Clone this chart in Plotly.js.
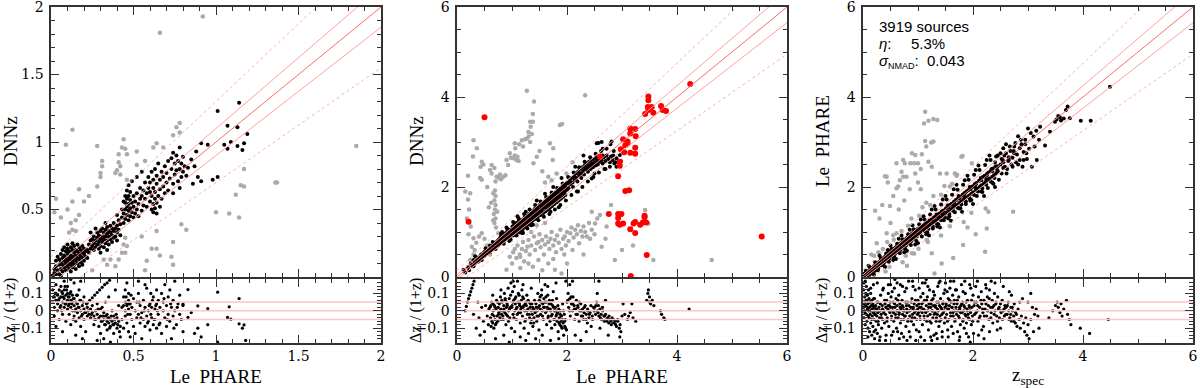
<!DOCTYPE html>
<html><head><meta charset="utf-8">
<script src="https://cdn.plot.ly/plotly-3.0.1.min.js"></script>
<style>html,body{margin:0;padding:0;background:#fff}#chart{width:1200px;height:388px}</style>
</head><body><div id="chart"></div>
<script>
// ---------------- DATA ----------------
const p1Gray = [[0.92,1.93],[0.66,1.81],[0.09,0.98],[0.13,1.09],[0.28,0.97],[0.44,1.02],[0.43,0.96],[0.45,0.95],[0.52,0.93],[0.46,0.91],[0.41,0.91],[0.31,0.86],[0.31,0.82],[0.3,0.77],[0.3,0.74],[0.28,0.67],[0.17,0.65],[0.41,0.85],[0.42,0.82],[0.4,0.79],[0.39,0.77],[0.42,0.76],[0.46,0.72],[0.64,0.99],[0.62,0.96],[0.68,0.96],[0.78,1.14],[0.76,1.11],[0.78,1.07],[0.74,1.05],[1.85,0.97],[1.37,0.7],[1.17,0.8],[1.15,0.68],[1.17,0.67],[1.12,0.61],[0.52,0.83],[0.57,0.86],[0.23,0.6],[0.13,0.56],[0.1,0.5],[0.17,0.46],[0.13,0.35],[0.11,0.33],[0.15,0.34],[0.44,0.24],[0.45,0.18],[0.41,0.13],[0.32,0.13],[0.34,0.09],[0.64,0.21],[0.74,0.26],[0.74,0.09],[0.82,0.35],[0.79,0.39],[1.0,0.48],[1.08,0.47],[1.14,0.44],[1.36,0.7],[0.57,0.05],[0.64,0.34],[0.61,0.21],[0.66,0.16],[0.73,0.15],[0.45,0.29],[0.46,0.23],[0.43,0.18],[0.39,0.08],[0.02,0.48],[0.03,0.58],[0.2,0.56],[0.12,0.4],[0.15,0.42],[0.06,0.44],[0.55,0.3],[0.58,0.12],[0.25,0.05],[0.36,0.13]];
const p1Black = [[0.02,0.03],[0.03,0.08],[0.03,0.12],[0.04,0.05],[0.04,0.15],[0.05,0.02],[0.05,0.09],[0.05,0.13],[0.06,0.06],[0.06,0.11],[0.06,0.17],[0.07,0.04],[0.07,0.09],[0.07,0.14],[0.07,0.2],[0.08,0.07],[0.08,0.12],[0.08,0.16],[0.08,0.22],[0.09,0.05],[0.09,0.1],[0.09,0.14],[0.09,0.19],[0.1,0.08],[0.1,0.12],[0.1,0.17],[0.1,0.21],[0.1,0.24],[0.11,0.06],[0.11,0.1],[0.11,0.14],[0.11,0.19],[0.12,0.09],[0.12,0.13],[0.12,0.16],[0.12,0.22],[0.13,0.07],[0.13,0.11],[0.13,0.15],[0.13,0.2],[0.13,0.25],[0.14,0.09],[0.14,0.13],[0.14,0.18],[0.14,0.23],[0.15,0.06],[0.15,0.12],[0.15,0.16],[0.15,0.2],[0.16,0.1],[0.16,0.14],[0.16,0.19],[0.16,0.24],[0.17,0.08],[0.17,0.13],[0.17,0.17],[0.17,0.22],[0.18,0.11],[0.18,0.15],[0.18,0.2],[0.19,0.09],[0.19,0.14],[0.19,0.18],[0.19,0.23],[0.2,0.12],[0.2,0.17],[0.2,0.21],[0.21,0.15],[0.21,0.19],[0.22,0.14],[0.22,0.2],[0.01,0.01],[0.02,0.06],[0.03,0.02],[0.12,0.04],[0.06,0.01],
[0.23,0.18],[0.23,0.24],[0.24,0.21],[0.24,0.27],[0.25,0.23],[0.25,0.28],[0.26,0.2],[0.26,0.25],[0.26,0.3],[0.27,0.22],[0.27,0.27],[0.28,0.24],[0.28,0.29],[0.28,0.33],[0.29,0.21],[0.29,0.26],[0.29,0.31],[0.3,0.23],[0.3,0.28],[0.3,0.34],[0.31,0.26],[0.31,0.3],[0.31,0.36],[0.32,0.22],[0.32,0.28],[0.32,0.33],[0.33,0.25],[0.33,0.3],[0.33,0.35],[0.33,0.4],[0.34,0.27],[0.34,0.32],[0.34,0.37],[0.35,0.24],[0.35,0.3],[0.35,0.34],[0.36,0.28],[0.36,0.33],[0.36,0.38],[0.37,0.26],[0.37,0.31],[0.37,0.36],[0.38,0.29],[0.38,0.34],[0.38,0.4],[0.39,0.3],[0.39,0.36],[0.4,0.27],[0.4,0.33],[0.4,0.38],[0.41,0.35],[0.41,0.42],[0.42,0.31],[0.42,0.39],[0.3,0.18],[0.34,0.2],[0.27,0.36],[0.24,0.33],
[0.43,0.44],[0.43,0.5],[0.44,0.4],[0.44,0.47],[0.44,0.56],[0.45,0.43],[0.45,0.5],[0.45,0.55],[0.45,0.6],[0.46,0.46],[0.46,0.52],[0.46,0.58],[0.46,0.64],[0.47,0.42],[0.47,0.49],[0.47,0.54],[0.47,0.6],[0.47,0.68],[0.48,0.45],[0.48,0.51],[0.48,0.57],[0.48,0.63],[0.49,0.48],[0.49,0.55],[0.49,0.71],[0.5,0.44],[0.5,0.52],[0.5,0.6],[0.51,0.47],[0.51,0.56],[0.52,0.5],[0.52,0.62],[0.53,0.45],[0.53,0.54],[0.54,0.58],[0.54,0.66],[0.55,0.49],[0.55,0.6],[0.56,0.53],[0.56,0.64],[0.52,0.74],[0.55,0.78],[0.4,0.46],
[0.57,0.58],[0.57,0.7],[0.58,0.52],[0.58,0.62],[0.59,0.66],[0.59,0.74],[0.6,0.56],[0.6,0.63],[0.6,0.7],[0.61,0.5],[0.61,0.6],[0.61,0.78],[0.62,0.48],[0.62,0.54],[0.62,0.66],[0.62,0.72],[0.63,0.51],[0.63,0.58],[0.63,0.63],[0.63,0.8],[0.64,0.47],[0.64,0.55],[0.64,0.69],[0.64,0.75],[0.65,0.6],[0.65,0.84],[0.66,0.52],[0.66,0.65],[0.66,0.72],[0.67,0.58],[0.67,0.78],[0.68,0.67],[0.68,0.74],[0.69,0.62],[0.69,0.82],[0.7,0.7],[0.7,0.77],[0.71,0.64],[0.71,0.86],[0.72,0.73],
[0.73,0.8],[0.73,0.88],[0.74,0.69],[0.74,0.92],[0.75,0.76],[0.75,0.84],[0.76,0.79],[0.76,0.9],[0.77,0.71],[0.77,0.86],[0.78,0.8],[0.78,0.96],[0.79,0.74],[0.79,0.84],[0.8,0.78],[0.8,0.89],[0.81,0.82],[0.82,0.75],[0.74,0.62],[0.78,0.66],
[1.01,1.23],[1.14,1.29],[1.07,1.12],[1.13,1.11],[1.19,1.06],[1.17,0.99],[1.13,0.97],[1.16,0.94],[1.09,1.0],[1.05,0.98],[1.07,0.95],[0.95,0.98],[0.91,0.99],[1.01,0.74],[0.98,0.72],[0.88,0.93],[0.85,0.87],[0.87,0.82],[0.83,0.81],[0.89,0.74],[0.91,0.71],[0.86,0.69]];
const p1Res = [[0.01,0.05],[0.01,0.12],[0.02,0.02],[0.02,0.08],[0.02,-0.03],[0.03,0.06],[0.03,0.1],[0.03,0.15],[0.04,0.0],[0.04,0.04],[0.04,0.09],[0.05,0.07],[0.05,0.12],[0.05,-0.05],[0.06,0.03],[0.06,0.08],[0.06,0.14],[0.07,0.05],[0.07,0.1],[0.07,-0.02],[0.08,0.02],[0.08,0.07],[0.08,0.12],[0.08,0.17],[0.09,0.04],[0.09,0.09],[0.09,-0.06],[0.1,0.01],[0.1,0.06],[0.1,0.1],[0.1,0.14],[0.11,-0.02],[0.11,0.04],[0.11,0.08],[0.12,0.02],[0.12,0.06],[0.12,0.11],[0.12,-0.08],[0.13,0.0],[0.13,0.05],[0.13,0.09],[0.14,-0.03],[0.14,0.03],[0.14,0.07],[0.14,0.16],[0.15,0.01],[0.15,0.05],[0.15,-0.06],[0.16,-0.01],[0.16,0.04],[0.16,0.09],[0.17,0.02],[0.17,-0.04],[0.17,0.12],[0.18,0.0],[0.18,0.06],[0.18,-0.09],[0.19,-0.02],[0.19,0.03],[0.2,0.01],[0.2,-0.05],[0.2,0.08],[0.21,-0.01],[0.21,-0.12],[0.22,0.02],[0.22,-0.03],[0.12,0.18],[0.18,0.17],[0.03,-0.09],[0.07,-0.12],[0.15,-0.14],[0.19,-0.16],
[0.23,-0.02],[0.24,0.01],[0.24,-0.04],[0.25,-0.01],[0.25,0.03],[0.26,-0.03],[0.26,-0.08],[0.27,0.0],[0.27,-0.05],[0.28,-0.02],[0.28,0.04],[0.29,-0.04],[0.29,-0.09],[0.3,0.01],[0.3,-0.03],[0.3,-0.13],[0.31,-0.06],[0.31,0.02],[0.32,-0.01],[0.32,-0.05],[0.32,-0.16],[0.33,-0.03],[0.33,-0.08],[0.33,0.05],[0.34,-0.06],[0.34,-0.02],[0.34,-0.11],[0.35,-0.04],[0.35,-0.07],[0.35,0.08],[0.36,-0.05],[0.36,-0.09],[0.36,-0.18],[0.37,-0.06],[0.37,0.0],[0.38,-0.08],[0.38,-0.03],[0.38,-0.13],[0.39,-0.07],[0.4,-0.1],[0.4,-0.04],[0.41,-0.06],[0.41,0.03],[0.42,-0.09],[0.42,-0.15],[0.39,0.12],[0.28,-0.17],
[0.22,0.045],[0.235,0.06],[0.25,0.075],[0.265,0.09],[0.28,0.105],[0.295,0.12],[0.31,0.135],[0.325,0.15],[0.34,0.16],[0.355,0.175],
[0.43,0.02],[0.43,-0.05],[0.44,0.08],[0.44,-0.1],[0.45,0.0],[0.45,0.05],[0.45,0.12],[0.45,-0.03],[0.46,0.03],[0.46,-0.07],[0.46,0.16],[0.47,0.01],[0.47,0.06],[0.47,-0.12],[0.47,0.1],[0.48,-0.02],[0.48,0.04],[0.48,-0.15],[0.49,0.02],[0.49,-0.05],[0.5,0.07],[0.5,-0.09],[0.46,0.04],[0.44,0.03],
[0.51,0.0],[0.51,-0.13],[0.52,0.05],[0.52,-0.04],[0.53,0.1],[0.53,-0.02],[0.54,-0.07],[0.54,0.03],[0.55,-0.01],[0.55,-0.16],[0.56,0.06],[0.56,-0.05],[0.57,0.02],[0.57,-0.09],[0.58,0.13],[0.58,-0.03],[0.59,0.0],[0.59,-0.06],[0.6,0.04],[0.6,-0.11],[0.61,0.02],[0.61,-0.04],[0.62,0.08],[0.62,-0.08],[0.53,0.17],[0.57,0.15],
[0.63,0.01],[0.63,-0.05],[0.64,0.04],[0.64,-0.1],[0.64,0.12],[0.65,-0.02],[0.65,0.06],[0.66,-0.07],[0.66,0.02],[0.67,0.1],[0.67,-0.13],[0.68,0.0],[0.68,0.05],[0.69,-0.04],[0.69,0.15],[0.7,0.03],[0.7,-0.09],[0.71,0.08],[0.71,-0.02],[0.72,0.12],[0.72,-0.06],[0.73,0.02],[0.73,-0.16],[0.74,0.06],[0.74,-0.03],[0.75,0.0],[0.75,0.17],[0.76,-0.08],[0.77,0.04],[0.78,-0.02],[0.78,0.09],[0.79,-0.05],[0.8,0.03],[0.8,-0.12],
[1.01,0.107],[1.14,0.07],[1.08,0.023],[1.07,-0.038],[1.09,-0.048],[1.14,-0.075],[1.17,-0.081],[1.16,-0.1],[1.01,-0.18],[1.18,-0.17],[0.89,0.028],[0.95,0.013],[0.85,-0.01],[0.83,-0.038],[0.89,-0.1],[0.91,-0.15],[0.8,0.038],[0.83,0.122],[0.95,-0.08],[0.87,-0.13],
[0.015,0.08],[0.025,0.1],[0.045,0.06],[0.055,0.02],[0.065,0.11],[0.075,0.08],[0.085,0.04],[0.095,0.12],[0.105,0.03],[0.115,0.1],[0.125,0.04],[0.135,0.07],[0.145,0.0],[0.155,0.09],[0.165,0.02],[0.175,0.06],[0.185,-0.03],[0.195,0.05],[0.205,-0.01],[0.215,0.04],[0.225,0.0],[0.245,-0.02],[0.265,-0.05],[0.285,0.01],[0.305,-0.06],[0.315,-0.03],[0.325,-0.08],[0.345,-0.04],[0.355,-0.1],[0.365,-0.03],[0.375,-0.08],[0.385,-0.05],[0.395,-0.02],[0.405,-0.08],[0.415,-0.12],[0.455,0.08],[0.465,-0.02],[0.475,0.04],[0.485,0.09],[0.595,0.03],[0.605,-0.02],[0.615,0.06],[0.625,-0.05],[0.635,0.03],[0.645,0.0],[0.605,0.1],[0.655,-0.08],[0.685,0.07],[0.705,-0.05],[0.725,0.04],[0.745,-0.1],[0.765,0.02],[0.535,0.05],[0.545,-0.04],[0.565,0.0],[0.585,-0.07],[0.105,0.08],[0.085,0.14],[0.135,-0.05],[0.065,0.0]];

const p2Gray = [[0.15,1.9],[0.2,1.72],[0.22,1.5],[0.18,1.3],[0.25,1.12],[0.21,0.95],[0.3,0.86],[0.35,0.76],[0.24,1.86],[0.3,3.04],[0.36,2.86],[0.29,2.68],[0.45,2.56],[0.43,2.45],[0.48,2.5],[0.63,2.49],[0.63,2.3],[0.6,2.38],[0.68,2.42],[0.66,1.86],[0.72,2.23],[0.76,2.2],[0.8,2.17],[0.84,2.23],[0.78,2.28],[0.7,2.12],[0.88,2.26],[0.9,2.6],[0.93,2.49],[0.96,2.75],[0.98,2.65],[1.02,2.64],[1.05,2.7],[1.08,2.6],[1.1,2.67],[1.12,2.58],[1.06,2.86],[1.05,2.97],[1.13,2.95],[1.18,3.04],[1.2,2.9],[1.24,3.06],[1.27,3.08],[1.3,3.12],[1.33,3.0],[1.36,3.18],[1.3,3.22],[1.34,3.34],[1.38,3.45],[1.33,3.45],[1.38,3.62],[1.4,3.9],[1.27,4.14],[2.33,4.04],[1.87,3.38],[1.91,3.4],[1.69,2.97],[1.75,2.86],[1.74,2.6],[1.45,2.67],[1.39,2.53],[1.5,2.8],[1.81,2.3],[1.66,2.23],[1.72,2.15],[1.99,2.3],[1.55,2.35],[1.6,2.1],[2.1,2.55],[0.2,2.25],[0.42,2.2],[0.55,2.0],[0.45,2.16],
[0.69,1.92],[0.7,1.8],[0.68,1.7],[0.7,1.6],[0.69,1.5],[0.67,1.4],[0.7,1.3],[0.68,1.2],[0.71,1.1],[0.75,0.97],[0.66,1.26],[0.73,1.45],[0.62,1.65],[0.58,1.55],
[0.45,0.97],[0.4,0.9],[0.27,0.67],[0.32,0.6],[0.24,0.38],[0.3,0.5],[0.5,0.85],[0.55,0.7],[0.6,0.5],
[0.9,0.16],[0.96,0.45],[1.0,0.3],[1.02,0.55],[1.05,0.62],[1.08,0.42],[1.1,0.7],[1.14,0.5],[1.15,0.45],[1.18,0.62],[1.2,0.78],[1.22,0.35],[1.25,0.58],[1.27,1.19],[1.28,0.67],[1.3,0.82],[1.32,0.5],[1.35,0.7],[1.38,0.23],[1.4,0.9],[1.42,0.6],[1.45,0.75],[1.48,0.38],[1.48,0.78],[1.5,0.95],[1.52,0.66],[1.55,0.82],[1.58,0.5],[1.6,0.72],[1.62,0.9],[1.66,0.3],[1.66,0.78],[1.68,0.62],[1.7,0.85],[1.72,1.0],[1.75,0.7],[1.78,0.82],[1.78,0.16],[1.8,0.55],[1.82,0.92],[1.85,0.76],[1.88,1.05],[1.9,0.08],[1.9,0.62],[1.93,0.85],[1.96,0.9],[1.98,0.7],[2.0,1.0],[2.03,0.8],[2.06,0.97],[2.08,1.1],[2.1,0.6],[2.12,0.88],[2.15,1.05],[2.18,0.95],[2.2,1.15],[2.22,0.75],[2.25,1.02],[2.28,0.9],[2.3,1.12],[2.33,1.0],[2.36,0.9],[2.4,1.2],[2.42,0.85],[2.45,1.05],[2.5,0.95],[1.35,1.0],[1.2,1.05],[1.45,1.15],[1.6,1.2],[1.1,0.95],[0.98,0.82],[1.3,0.3],[1.55,0.15],[1.75,0.4],[2.0,0.3],[1.95,0.5],[1.15,0.2],[2.3,0.5],
[2.51,1.19],[2.55,1.3],[2.6,1.38],[2.72,1.12],[2.63,0.67],[2.7,0.85],[2.87,0.38],[3.0,0.6],[3.42,1.49],[3.48,1.19],[3.57,0.38],[4.63,0.38],[2.45,1.45],[2.8,1.6],[3.2,0.7]];
const p2Black = [[0.12,0.16],[0.15,0.1],[0.2,0.22],[0.22,0.15],[0.25,0.3],[0.28,0.24],[0.3,0.38],[0.32,0.3],[0.35,0.36],[0.36,0.42],[0.38,0.34],[0.4,0.44],[0.42,0.4],[0.44,0.5],[0.46,0.45],[0.48,0.52],[0.5,0.47],[0.52,0.56],[0.54,0.52],[0.55,0.6],[0.56,0.55],[0.58,0.58],[0.6,0.62],[0.6,0.55],[0.45,0.38],[0.33,0.46],[0.52,0.64],
[0.62,0.66],[0.63,0.6],[0.65,0.7],[0.66,0.64],[0.68,0.72],[0.68,0.66],[0.7,0.75],[0.7,0.69],[0.72,0.78],[0.72,0.72],[0.74,0.8],[0.74,0.74],[0.75,0.7],[0.76,0.83],[0.77,0.77],[0.78,0.86],[0.78,0.74],[0.8,0.82],[0.8,0.9],[0.81,0.76],[0.82,0.86],[0.83,0.8],[0.84,0.92],[0.85,0.86],[0.86,0.8],[0.86,0.95],[0.87,0.9],[0.88,0.84],[0.89,0.98],[0.9,0.92],[0.9,0.86],[0.91,1.0],[0.92,0.95],[0.93,0.88],[0.94,1.02],[0.95,0.97],[0.96,0.9],[0.97,1.05],[0.98,1.0],[0.99,0.94],[0.65,0.78],[0.82,1.0],[0.9,1.1],[0.95,0.8],
[1.0,1.06],[1.0,0.98],[1.01,1.12],[1.02,1.02],[1.02,0.92],[1.03,1.08],[1.04,1.16],[1.05,1.0],[1.05,1.06],[1.06,1.12],[1.07,0.96],[1.07,1.04],[1.08,1.2],[1.09,1.1],[1.1,1.02],[1.1,1.15],[1.11,1.07],[1.12,1.24],[1.13,1.12],[1.13,1.0],[1.14,1.18],[1.15,1.08],[1.16,1.14],[1.17,1.26],[1.18,1.04],[1.18,1.2],[1.19,1.12],[1.2,1.28],[1.21,1.16],[1.22,1.1],[1.22,1.24],[1.23,1.32],[1.24,1.18],[1.25,1.12],[1.26,1.28],[1.27,1.22],[1.28,1.36],[1.29,1.16],[1.3,1.3],[1.3,1.24],[1.31,1.4],[1.32,1.2],[1.33,1.34],[1.34,1.28],[1.35,1.44],[1.36,1.24],[1.37,1.38],[1.38,1.32],[1.39,1.48],[1.4,1.28],[1.4,1.4],[1.41,1.36],[1.42,1.52],[1.43,1.3],[1.44,1.44],[1.45,1.38],[1.46,1.56],[1.47,1.34],[1.48,1.48],[1.49,1.42],[1.5,1.6],[1.1,1.35],[1.2,0.98],[1.35,1.15],[1.45,1.7],[1.25,1.45],
[1.51,1.5],[1.52,1.38],[1.53,1.56],[1.54,1.46],[1.55,1.64],[1.56,1.52],[1.57,1.42],[1.58,1.6],[1.59,1.68],[1.6,1.55],[1.61,1.46],[1.62,1.64],[1.63,1.72],[1.64,1.58],[1.65,1.5],[1.66,1.68],[1.67,1.76],[1.68,1.62],[1.69,1.54],[1.7,1.72],[1.71,1.8],[1.72,1.66],[1.73,1.58],[1.74,1.76],[1.75,1.84],[1.76,1.7],[1.77,1.62],[1.78,1.8],[1.79,1.88],[1.8,1.74],[1.81,1.66],[1.82,1.84],[1.83,1.92],[1.84,1.78],[1.85,1.7],[1.86,1.88],[1.87,1.96],[1.88,1.82],[1.89,1.74],[1.9,1.92],[1.91,2.0],[1.92,1.86],[1.93,1.78],[1.94,1.96],[1.95,2.04],[1.96,1.9],[1.97,1.82],[1.98,2.0],[1.99,2.08],[2.0,1.94],[1.6,1.85],[1.75,2.0],[1.9,2.2],[1.7,1.45],[1.85,1.55],
[2.02,2.1],[2.03,1.98],[2.05,2.14],[2.06,2.06],[2.08,2.2],[2.1,2.1],[2.11,2.0],[2.13,2.24],[2.14,2.16],[2.16,2.3],[2.17,2.2],[2.19,2.12],[2.2,2.34],[2.22,2.26],[2.23,2.4],[2.25,2.3],[2.26,2.2],[2.28,2.44],[2.29,2.36],[2.31,2.28],[2.32,2.48],[2.34,2.4],[2.35,2.52],[2.37,2.44],[2.38,2.34],[2.4,2.56],[2.41,2.48],[2.43,2.4],[2.44,2.6],[2.46,2.52],[2.47,2.44],[2.49,2.62],[2.5,2.54],[2.52,2.48],[2.53,2.66],[2.55,2.58],[2.56,2.5],[2.58,2.64],[2.6,2.56],[2.61,2.7],[2.63,2.6],[2.65,2.52],[2.67,2.66],[2.7,2.58],[2.72,2.7],[2.75,2.62],[2.78,2.55],[2.8,2.68],[2.83,2.6],[2.86,2.52],[2.9,2.64],[2.94,2.56],[2.54,2.97],[2.63,3.0],[2.79,2.95],[2.57,2.98],[2.81,3.01],[2.96,2.71],[2.45,2.19],[2.36,2.41],[2.2,1.9],[2.3,2.7],[2.7,2.4],[2.85,2.8],[2.65,2.85],[2.15,2.45],[2.5,2.3],[2.9,2.45],[2.98,2.58],
[0.3,0.24],[0.4,0.36],[0.5,0.56],[0.6,0.7],[0.7,0.62],[0.8,0.96],[0.85,0.74],[0.92,1.06],[0.97,0.84],[1.02,1.22],[1.08,0.92],[1.12,1.3],[1.18,0.98],[1.22,1.4],[1.28,1.08],[1.32,1.5],[1.38,1.16],[1.42,1.6],[1.48,1.26],[1.52,1.68],[1.58,1.34],[1.62,1.78],[1.68,1.4],[1.72,1.88],[1.78,1.5],[1.82,1.98],[1.88,1.6],[1.92,2.08],[1.98,1.7],[2.02,2.22],[2.08,1.82],[2.12,2.32],[2.18,1.9],[2.22,2.44],[2.28,2.0],[2.32,2.56],[2.38,2.12],[2.42,2.66],[2.48,2.22],[2.52,2.74],[2.58,2.32],[2.62,2.8],[2.68,2.4],[2.72,2.85],[2.78,2.45],[2.84,2.7],[2.88,2.55],[1.05,1.1],[1.15,1.2],[1.25,1.3],[1.35,1.4],[1.45,1.5],[1.55,1.6],[1.65,1.7],[1.75,1.8],[1.85,1.9],[1.95,2.0],[2.05,2.1],[2.15,2.2],[2.25,2.3],[2.35,2.4],[2.45,2.5],[2.55,2.6],[2.65,2.7],[0.95,1.0],[0.85,0.9],[0.75,0.8]];
const p2Red = [[0.5,3.55],[4.24,4.29],[3.48,4.01],[3.48,3.93],[3.47,3.78],[3.54,3.78],[3.48,3.71],[3.57,3.65],[3.42,3.62],[3.71,3.8],[3.74,3.71],[3.8,3.69],[3.15,3.3],[3.24,3.29],[3.15,3.19],[3.25,3.13],[3.02,3.06],[3.1,3.01],[3.06,2.93],[3.1,2.96],[3.24,2.87],[2.98,2.84],[3.04,2.77],[3.15,2.76],[3.24,2.74],[2.96,2.56],[2.96,2.47],[2.93,2.24],[2.6,2.67],[3.06,1.91],[3.13,1.93],[0.21,1.23],[2.76,1.4],[2.93,1.4],[2.99,1.4],[2.93,1.31],[2.93,1.19],[2.96,1.16],[3.02,1.19],[3.15,1.06],[3.21,1.19],[3.24,1.22],[3.24,0.98],[3.33,1.16],[3.38,1.21],[3.41,1.33],[3.41,1.36],[3.44,1.21],[3.45,0.49],[5.54,0.9],[3.16,0.02]];
const p2Res = [[0.15,0.0],[0.17,0.025],[0.19,0.05],[0.21,0.07],[0.23,0.09],[0.25,0.11],[0.27,0.13],[0.29,0.15],[0.31,0.17],
[0.3,-0.02],[0.35,-0.1],[0.38,0.05],[0.4,-0.04],[0.42,-0.14],[0.45,0.02],[0.48,-0.06],[0.5,-0.12],[0.52,0.03],[0.55,-0.03],[0.57,-0.08],[0.58,0.01],
[0.6,0.02],[0.61,-0.04],[0.62,-0.09],[0.63,0.05],[0.64,-0.02],[0.65,-0.07],[0.66,0.0],[0.67,-0.1],[0.68,0.03],[0.69,-0.05],[0.7,-0.08],[0.71,0.01],[0.72,0.06],[0.73,-0.03],[0.74,-0.06],[0.75,0.02],[0.76,-0.01],[0.77,0.04],[0.78,-0.04],[0.79,0.08],[0.8,0.01],[0.81,-0.02],[0.82,0.05],[0.83,0.0],[0.84,-0.05],[0.85,0.03],[0.86,0.1],[0.87,-0.01],[0.88,0.06],[0.89,-0.08],[0.9,0.02],[0.91,0.04],[0.92,-0.03],[0.93,0.13],[0.94,0.0],[0.95,0.07],[0.96,-0.04],[0.97,0.02],[0.98,0.16],[0.99,-0.1],[0.7,-0.16],[0.85,-0.14],[0.95,-0.18],[0.65,0.09],[0.8,0.12],
[1.0,0.03],[1.01,0.11],[1.02,-0.02],[1.03,0.06],[1.04,0.14],[1.05,0.0],[1.06,0.04],[1.07,0.08],[1.08,-0.05],[1.09,0.02],[1.1,0.17],[1.11,0.05],[1.12,-0.01],[1.13,0.09],[1.14,0.03],[1.15,-0.07],[1.16,0.01],[1.17,0.06],[1.18,0.12],[1.19,-0.03],[1.2,0.02],[1.21,0.07],[1.22,-0.1],[1.23,0.0],[1.24,0.04],[1.25,-0.05],[1.26,0.03],[1.27,0.09],[1.28,-0.02],[1.29,0.01],[1.3,-0.13],[1.31,0.05],[1.32,-0.04],[1.33,0.02],[1.34,-0.07],[1.35,0.0],[1.36,0.04],[1.37,-0.02],[1.38,-0.09],[1.39,0.01],[1.4,-0.04],[1.41,0.06],[1.42,-0.01],[1.43,-0.16],[1.44,0.02],[1.45,-0.06],[1.46,0.0],[1.47,0.1],[1.48,-0.03],[1.49,-0.11],[1.05,-0.12],[1.15,-0.15],[1.25,-0.17],[1.35,0.13],[1.02,0.17],[1.2,0.15],
[1.5,0.03],[1.51,0.08],[1.52,-0.02],[1.53,0.05],[1.54,0.12],[1.55,0.0],[1.56,0.04],[1.57,-0.05],[1.58,0.07],[1.59,0.02],[1.6,0.15],[1.61,-0.01],[1.62,0.05],[1.63,-0.08],[1.64,0.02],[1.65,0.09],[1.66,-0.03],[1.67,0.01],[1.68,0.06],[1.69,-0.06],[1.7,0.0],[1.71,0.04],[1.72,-0.1],[1.73,-0.02],[1.74,0.03],[1.75,0.11],[1.76,-0.05],[1.77,0.0],[1.78,-0.08],[1.79,0.02],[1.8,-0.03],[1.81,0.07],[1.82,-0.06],[1.83,-0.01],[1.84,-0.12],[1.85,0.01],[1.86,-0.04],[1.87,-0.08],[1.88,0.0],[1.89,-0.06],[1.9,-0.03],[1.91,-0.1],[1.92,0.04],[1.93,-0.07],[1.94,-0.14],[1.95,-0.02],[1.96,-0.09],[1.97,-0.05],[1.98,0.17],[1.99,-0.11],[1.55,-0.14],[1.7,-0.17],[1.85,-0.16],[1.65,0.14],[1.8,0.16],
[2.0,0.05],[2.02,0.1],[2.03,0.02],[2.05,0.07],[2.06,-0.03],[2.08,0.04],[2.1,0.0],[2.11,0.08],[2.13,0.03],[2.14,-0.05],[2.16,0.01],[2.17,0.06],[2.19,-0.02],[2.2,0.02],[2.22,-0.06],[2.23,0.0],[2.25,0.04],[2.26,-0.03],[2.28,0.01],[2.3,-0.05],[2.31,-0.01],[2.33,0.03],[2.35,-0.02],[2.37,-0.07],[2.38,0.0],[2.4,-0.04],[2.42,-0.01],[2.44,-0.09],[2.46,-0.03],[2.48,0.02],[2.05,0.15],[2.15,-0.14],[2.25,-0.17],[2.1,0.17],[2.35,-0.12],
[2.5,0.02],[2.52,-0.02],[2.54,0.05],[2.55,0.0],[2.57,0.03],[2.58,-0.03],[2.6,0.01],[2.62,-0.02],[2.63,-0.05],[2.65,0.0],[2.67,-0.03],[2.68,-0.06],[2.7,-0.02],[2.72,-0.05],[2.74,-0.04],[2.76,-0.07],[2.78,-0.05],[2.8,-0.06],[2.82,-0.04],[2.85,-0.07],[2.88,-0.06],[2.9,-0.09],[2.92,-0.05],[2.95,-0.1],[2.55,0.1],[2.6,-0.1],[2.7,0.06],[2.75,-0.14],[2.96,-0.15],[3.0,-0.03],[3.05,-0.02],[3.1,-0.05],[3.12,-0.03],[3.15,-0.01],[3.2,-0.04],[3.02,0.04],[3.18,0.04],[2.98,-0.12],[3.25,-0.06],[2.58,0.17],
[3.45,0.06],[3.47,0.1],[3.48,0.12],[3.5,0.05],[3.5,0.08],[3.52,0.04],[3.55,0.06],[3.58,0.03],[3.7,0.0],[3.72,-0.02],[3.76,-0.04],[3.78,-0.05],[4.22,0.01],
[0.615,0.03],[0.635,-0.06],[0.655,0.04],[0.675,-0.03],[0.695,0.02],[0.715,-0.07],[0.735,0.05],[0.755,-0.02],[0.775,0.0],[0.795,-0.05],[0.815,0.06],[0.835,-0.03],[0.855,0.01],[0.875,0.07],[0.895,-0.02],[0.915,0.03],[0.935,-0.06],[0.955,0.01],[0.975,0.09],[0.995,0.02],[1.015,0.05],[1.035,-0.04],[1.055,0.07],[1.075,0.01],[1.095,-0.02],[1.115,0.1],[1.135,0.04],[1.155,-0.01],[1.175,0.02],[1.195,0.08],[1.215,0.03],[1.235,-0.06],[1.255,0.05],[1.275,0.0],[1.295,0.06],[1.315,-0.02],[1.335,0.04],[1.355,-0.05],[1.375,0.02],[1.395,-0.07],[1.415,0.0],[1.435,0.04],[1.455,-0.03],[1.475,0.02],[1.495,0.06],[1.515,0.01],[1.535,0.09],[1.555,-0.03],[1.575,0.02],[1.595,0.05],[1.615,0.08],[1.635,0.0],[1.655,-0.04],[1.675,0.04],[1.695,0.01],[1.715,-0.03],[1.735,0.06],[1.755,0.02],[1.775,-0.05],[1.795,0.0],[1.815,-0.02],[1.835,0.03],[1.855,-0.07],[1.875,-0.02],[1.895,-0.09],[1.915,-0.05],[1.935,0.0],[1.955,-0.06],[1.975,-0.1],[2.015,0.06],[2.045,0.0],[2.075,0.08],[2.105,0.04],[2.135,0.01],[2.165,-0.02],[2.195,0.03],[2.225,0.05],[2.255,0.0],[2.285,-0.03],[2.315,0.02],[2.345,-0.05],[2.375,0.01],[2.405,-0.02],[2.435,0.03],[2.465,-0.05],[2.495,0.0],[2.525,0.03],[2.565,-0.01],[2.605,-0.04],[2.645,0.02],[2.685,-0.03],[2.725,-0.06],[2.765,-0.03],[2.805,-0.08],[2.845,-0.05],[2.885,-0.08],[2.925,-0.06],[2.965,-0.08]];

const p3Gray = [[1.13,3.67],[1.11,3.41],[1.19,3.47],[1.28,3.51],[1.35,3.49],[1.13,3.02],[1.24,2.99],[1.15,2.9],[0.95,2.71],[1.07,2.73],[0.86,2.53],[0.93,2.53],[1.0,2.53],[1.19,2.56],[0.61,2.53],[0.76,2.53],[0.7,2.34],[0.73,2.23],[0.67,2.15],[0.43,2.23],[0.61,1.97],[0.45,2.1],[0.4,2.24],[1.81,2.69],[1.98,2.53],[1.52,2.3],[1.67,2.3],[1.71,2.27],[1.4,2.3],[0.49,1.58],[0.22,1.47],[0.73,2.6],[0.79,2.23],[0.64,2.01],[0.89,2.75],[1.25,2.45],[1.28,3.01],[1.79,2.67],[1.58,2.01],[1.7,1.71],[2.28,1.45],[2.25,1.08],[1.82,0.71],[2.22,0.56],[1.64,0.42],[1.43,0.3],[1.25,0.53],[1.16,0.82],[0.89,0.53],[2.73,1.45],[0.55,0.93],[0.43,0.97],
[0.2,0.47],[0.28,0.55],[0.36,0.62],[0.44,0.78],[0.56,0.83],[0.61,0.97],[0.7,1.02],[0.82,1.14],[0.88,1.3],[1.02,1.36],[1.08,1.55],[1.22,1.6],[1.28,1.8],[1.42,1.83],[1.48,2.02],[1.62,2.07],[1.7,2.25],[0.41,0.12],[0.48,0.23],[0.72,0.33],[0.78,0.47],[0.93,0.52],[1.01,0.63],[1.18,0.78],[1.42,0.92],[1.58,1.13],[1.83,1.22],[1.97,1.43],[2.23,1.52],[0.3,1.3],[0.35,1.6],[0.55,1.8],[0.5,1.2],[0.65,1.5],[0.75,1.7],[0.85,1.95],[1.0,2.1],[0.95,2.3],[1.05,2.4],[0.8,0.25],[1.3,0.08],[1.9,1.1],[2.05,0.95],[1.45,1.35],[0.25,0.75],[0.15,0.5],[1.05,1.95],[1.15,1.65]];
const p3Black = [[0.01,0.03],[0.02,0.0],[0.03,0.07],[0.04,0.02],[0.05,0.09],[0.06,0.04],[0.07,0.01],[0.08,0.11],[0.09,0.06],[0.1,0.13],[0.11,0.08],[0.12,0.05],[0.13,0.16],[0.14,0.1],[0.15,0.19],[0.16,0.13],[0.17,0.09],[0.18,0.2],[0.19,0.15],[0.2,0.24],[0.21,0.18],[0.22,0.14],[0.23,0.27],[0.24,0.21],[0.25,0.17],[0.26,0.3],[0.27,0.25],[0.28,0.2],[0.29,0.33],[0.3,0.27],[0.31,0.35],[0.32,0.29],[0.33,0.26],[0.34,0.38],[0.35,0.33],[0.36,0.41],[0.37,0.35],[0.38,0.31],[0.39,0.44],[0.4,0.38],[0.41,0.46],[0.42,0.4],[0.43,0.36],[0.44,0.49],[0.45,0.43],[0.46,0.52],[0.47,0.45],[0.48,0.41],[0.49,0.55],[0.5,0.48],[0.51,0.57],[0.52,0.5],[0.53,0.46],[0.54,0.6],[0.55,0.53],[0.56,0.62],[0.57,0.55],[0.58,0.51],[0.59,0.65],[0.6,0.58],[0.61,0.67],[0.62,0.6],[0.63,0.56],[0.64,0.7],[0.65,0.63],[0.66,0.72],[0.67,0.65],[0.68,0.6],[0.69,0.75],[0.7,0.68],[0.71,0.77],[0.72,0.7],[0.73,0.65],[0.74,0.8],[0.75,0.73],[0.76,0.83],[0.77,0.75],[0.78,0.7],[0.79,0.85],[0.8,0.78],[0.81,0.88],[0.82,0.8],[0.83,0.75],[0.84,0.9],[0.85,0.83],[0.86,0.93],[0.87,0.85],[0.88,0.8],[0.89,0.96],[0.9,0.88],[0.91,0.98],[0.92,0.9],[0.93,0.85],[0.94,1.01],[0.95,0.93],[0.96,1.04],[0.97,0.95],[0.98,0.9],[0.99,1.06],[1.0,0.98],
[1.01,1.08],[1.03,1.0],[1.04,0.96],[1.06,1.13],[1.07,1.05],[1.09,1.15],[1.1,1.07],[1.12,1.02],[1.13,1.19],[1.15,1.1],[1.16,1.21],[1.18,1.13],[1.19,1.07],[1.21,1.25],[1.22,1.16],[1.24,1.27],[1.25,1.19],[1.27,1.13],[1.28,1.31],[1.3,1.22],[1.31,1.34],[1.33,1.25],[1.34,1.19],[1.36,1.38],[1.37,1.29],[1.39,1.41],[1.4,1.32],[1.42,1.26],[1.43,1.45],[1.45,1.36],[1.46,1.48],[1.48,1.39],[1.49,1.33],[1.51,1.53],[1.52,1.43],[1.54,1.56],[1.55,1.46],[1.57,1.4],[1.58,1.6],[1.6,1.5],[1.61,1.63],[1.63,1.53],[1.64,1.47],[1.66,1.68],[1.67,1.57],[1.69,1.71],[1.7,1.6],[1.72,1.54],[1.73,1.75],[1.75,1.64],[1.76,1.78],[1.78,1.67],[1.79,1.61],[1.81,1.83],[1.82,1.71],[1.84,1.86],[1.85,1.74],[1.87,1.68],[1.88,1.9],[1.9,1.78],[1.91,1.93],[1.93,1.81],[1.94,1.75],[1.96,1.98],[1.97,1.85],[1.99,2.01],[2.0,1.88],[2.02,1.82],[2.03,2.06],[2.05,1.93],[2.06,2.09],[2.08,1.96],[2.09,1.9],[2.11,2.14],[2.12,2.0],[2.14,2.17],[2.15,2.04],[2.17,1.97],[2.18,2.22],[2.2,2.08],[2.21,2.25],[2.23,2.11],[2.24,2.05],[2.26,2.3],[2.27,2.16],[2.29,2.33],[2.3,2.19],[2.32,2.12],[2.33,2.38],[2.35,2.23],[2.36,2.41],[2.38,2.26],[2.39,2.2],[2.41,2.46],[2.42,2.3],
[0.05,0.05],[0.15,0.15],[0.25,0.26],[0.35,0.35],[0.45,0.46],[0.55,0.55],[0.65,0.66],[0.75,0.75],[0.85,0.86],[0.95,0.95],[1.05,1.06],[1.15,1.15],[1.25,1.26],[1.35,1.35],[1.45,1.46],[1.55,1.55],[1.65,1.66],[1.75,1.75],[1.85,1.86],[1.95,1.95],[2.05,2.06],[2.15,2.15],[2.25,2.26],[2.35,2.35],[2.45,2.46],[2.55,2.55],[2.65,2.66],[2.75,2.75],[2.85,2.86],[2.95,2.95],
[0.1,0.25],[0.2,0.05],[0.3,0.48],[0.4,0.22],[0.5,0.7],[0.6,0.4],[0.7,0.92],[0.8,0.58],[0.9,1.15],[1.0,0.75],[1.1,1.35],[1.2,0.92],[1.3,1.58],[1.4,1.1],[1.5,1.8],[1.6,1.25],[1.7,2.05],[1.8,1.45],[1.9,2.25],[2.0,1.62],[2.1,2.48],[2.2,1.8],[2.3,2.7],[2.4,2.0],[0.45,0.6],[0.65,0.85],[0.85,1.05],[1.05,1.28],[1.25,1.5],[1.45,1.72],[1.65,1.95],[1.85,2.15],[2.05,2.38],[2.25,2.6],[0.55,0.38],[0.75,0.55],[0.95,0.72],[1.15,0.95],[1.35,1.12],[1.55,1.3],[1.75,1.52],[1.95,1.7],[2.15,1.9],[2.35,2.1],
[2.4,2.55],[2.45,2.7],[2.5,2.5],[2.52,2.62],[2.55,2.86],[2.58,2.45],[2.6,2.75],[2.61,2.3],[2.65,2.6],[2.68,2.8],[2.7,2.5],[2.72,2.65],[2.75,2.9],[2.78,2.55],[2.8,2.72],[2.82,3.13],[2.85,2.6],[2.88,2.95],[2.9,2.45],[2.92,2.78],[2.95,3.05],[2.98,2.62],[3.0,3.3],[3.02,2.85],[3.05,3.2],[3.07,2.45],[3.1,3.12],[3.12,2.9],[3.15,3.25],[3.16,2.6],[3.2,3.05],[3.22,3.34],[3.31,2.92],[3.4,3.23],[3.49,3.45],[3.52,3.5],[3.55,3.58],[3.58,3.55],[3.6,3.48],[3.65,3.52],[3.69,3.71],[3.72,3.79],[3.76,3.53],[3.96,3.47],[4.14,3.47],[4.49,4.23],[2.45,2.35],[2.5,2.75],[2.55,2.42],[2.6,2.95],
[0.05,0.14],[0.08,0.0],[0.12,0.22],[0.18,0.08],[0.22,0.33],[0.27,0.15],[0.32,0.42],[0.37,0.26],[0.42,0.52],[0.47,0.34],[0.52,0.63],[0.57,0.44],[0.62,0.74],[0.67,0.53],[0.72,0.84],[0.77,0.62],[0.82,0.95],[0.87,0.71],[0.92,1.06],[0.97,0.8],[1.02,1.17],[1.07,0.9],[1.12,1.28],[1.17,0.99],[1.22,1.39],[1.27,1.08],[1.32,1.5],[1.37,1.17],[1.42,1.61],[1.47,1.26],[1.52,1.72],[1.57,1.35],[1.62,1.83],[1.67,1.44],[1.72,1.94],[1.77,1.53],[1.82,2.05],[1.87,1.62],[1.92,2.16],[1.97,1.71],[2.02,2.27],[2.07,1.8],[2.12,2.38],[2.17,1.89],[2.22,2.49],[2.27,1.98],[2.32,2.6],[2.37,2.07],[2.42,2.68],[2.47,2.16],[2.52,2.3],[2.57,2.7],[2.62,2.4],[2.67,2.9],[2.72,2.45],[2.77,2.98],[2.82,2.5],[2.87,3.05],[2.92,2.6],[2.97,2.75],
[0.04,0.07],[0.14,0.16],[0.24,0.22],[0.34,0.37],[0.44,0.41],[0.54,0.57],[0.64,0.61],[0.74,0.78],[0.84,0.81],[0.94,0.98],[1.04,1.01],[1.14,1.19],[1.24,1.2],[1.34,1.39],[1.44,1.4],[1.54,1.59],[1.64,1.6],[1.74,1.8],[1.84,1.79],[1.94,2.0],[2.04,1.99],[2.14,2.2],[2.24,2.18],[2.34,2.4],[2.44,2.38],[2.54,2.6],[2.64,2.58],[2.74,2.8]];
const p3Res = [[0.01,0.12],[0.01,0.02],[0.02,0.16],[0.02,-0.04],[0.03,0.08],[0.03,0.0],[0.04,0.05],[0.04,-0.08],[0.05,0.1],[0.05,0.03],[0.06,-0.02],[0.06,0.14],[0.07,0.06],[0.07,-0.06],[0.08,0.01],[0.08,0.09],[0.09,-0.1],[0.09,0.04],[0.1,0.0],[0.1,0.12],[0.11,-0.04],[0.11,0.07],[0.12,0.02],[0.12,-0.12],[0.13,0.05],[0.13,-0.02],[0.14,0.1],[0.14,-0.07],[0.15,0.0],[0.15,0.03],[0.16,-0.14],[0.16,0.06],[0.17,-0.03],[0.17,0.01],[0.18,-0.09],[0.18,0.04],[0.19,0.15],[0.19,-0.01],[0.2,-0.05],[0.2,0.02],[0.21,-0.16],[0.21,0.07],[0.22,-0.02],[0.22,0.0],[0.23,-0.11],[0.23,0.03],[0.24,-0.06],[0.25,0.01],[0.25,-0.03],[0.26,-0.13],[0.27,0.05],[0.27,-0.01],[0.28,-0.08],[0.29,0.02],[0.3,-0.04],[0.3,-0.17],[0.31,0.0],[0.32,0.09],[0.33,-0.02],[0.34,-0.1],[0.35,0.03],[0.36,-0.05],[0.37,0.13],[0.38,0.0],[0.39,-0.07],[0.4,0.04],[0.41,-0.02],[0.42,-0.14],[0.43,0.06],[0.44,-0.04],[0.45,0.01],[0.46,0.1],[0.47,-0.09],[0.48,0.03],[0.49,-0.01],
[0.5,0.15],[0.5,0.02],[0.51,0.08],[0.52,-0.03],[0.53,0.11],[0.54,0.0],[0.55,0.05],[0.56,-0.06],[0.57,0.13],[0.58,0.02],[0.59,-0.02],[0.6,0.07],[0.61,-0.1],[0.62,0.03],[0.63,0.0],[0.64,-0.04],[0.65,0.09],[0.66,-0.01],[0.67,0.04],[0.68,-0.07],[0.69,0.01],[0.7,-0.13],[0.71,0.06],[0.72,-0.02],[0.73,0.02],[0.74,-0.05],[0.75,0.0],[0.76,0.11],[0.77,-0.03],[0.78,-0.09],[0.79,0.03],[0.8,-0.01],[0.81,0.05],[0.82,-0.05],[0.83,0.17],[0.84,0.0],[0.85,-0.03],[0.86,-0.15],[0.87,0.02],[0.88,-0.06],[0.89,0.07],[0.9,-0.02],[0.91,0.01],[0.92,-0.08],[0.93,0.04],[0.94,-0.04],[0.95,0.12],[0.96,0.0],[0.97,-0.11],[0.98,0.03],[0.99,-0.02],[0.55,-0.12],[0.62,0.16],[0.72,0.14],[0.8,-0.17],[0.9,0.17],[0.66,-0.16],
[1.0,0.06],[1.01,-0.01],[1.02,0.13],[1.03,0.02],[1.04,-0.05],[1.05,0.08],[1.06,0.0],[1.07,0.04],[1.08,-0.08],[1.09,0.1],[1.1,0.01],[1.11,-0.03],[1.12,0.06],[1.13,0.16],[1.14,-0.01],[1.15,0.03],[1.16,-0.06],[1.17,0.08],[1.18,0.0],[1.19,-0.11],[1.2,0.04],[1.21,0.12],[1.22,-0.02],[1.23,0.02],[1.24,-0.07],[1.25,0.06],[1.26,0.0],[1.27,-0.04],[1.28,0.03],[1.29,-0.14],[1.3,0.09],[1.31,-0.01],[1.32,0.02],[1.33,-0.06],[1.34,0.05],[1.35,-0.02],[1.36,0.14],[1.37,0.0],[1.38,-0.09],[1.39,0.03],[1.4,-0.03],[1.41,0.07],[1.42,-0.05],[1.43,0.01],[1.44,-0.12],[1.45,0.04],[1.46,-0.01],[1.47,0.1],[1.48,-0.07],[1.49,0.02],[1.05,-0.15],[1.15,0.18],[1.25,-0.17],[1.4,0.17],[1.35,-0.16],
[1.5,0.16],[1.51,0.04],[1.52,-0.02],[1.53,0.11],[1.54,0.01],[1.55,0.07],[1.56,-0.05],[1.57,0.03],[1.58,0.13],[1.59,-0.01],[1.6,0.05],[1.61,-0.09],[1.62,0.02],[1.63,0.09],[1.64,-0.03],[1.65,0.0],[1.66,0.06],[1.67,-0.06],[1.68,0.12],[1.69,0.02],[1.7,-0.02],[1.71,0.04],[1.72,-0.12],[1.73,0.0],[1.74,0.08],[1.75,-0.04],[1.76,0.01],[1.77,-0.08],[1.78,0.03],[1.79,0.15],[1.8,-0.01],[1.81,0.05],[1.82,-0.05],[1.83,0.0],[1.84,-0.1],[1.85,0.02],[1.86,0.1],[1.87,-0.03],[1.88,-0.07],[1.89,0.01],[1.9,0.06],[1.91,-0.02],[1.92,-0.15],[1.93,0.03],[1.94,-0.05],[1.95,0.0],[1.96,0.13],[1.97,-0.08],[1.98,0.02],[1.99,-0.03],[1.55,-0.15],[1.65,0.17],[1.75,-0.17],[1.85,0.17],[1.95,-0.18],
[2.0,0.09],[2.02,0.03],[2.03,-0.02],[2.05,0.14],[2.06,0.05],[2.08,0.0],[2.09,-0.06],[2.1,0.08],[2.12,0.02],[2.13,-0.03],[2.15,0.11],[2.16,0.04],[2.18,-0.01],[2.19,-0.09],[2.2,0.06],[2.22,0.01],[2.23,0.15],[2.25,-0.03],[2.26,0.08],[2.28,0.03],[2.29,-0.05],[2.3,0.12],[2.32,0.02],[2.33,-0.01],[2.35,0.06],[2.36,-0.07],[2.38,0.03],[2.39,0.1],[2.4,0.0],[2.42,0.05],[2.43,-0.03],[2.45,0.08],[2.46,0.01],[2.48,-0.04],[2.5,0.04],[2.51,-0.01],[2.53,0.06],[2.55,0.0],[2.57,-0.03],[2.58,0.03],[2.1,-0.14],[2.2,-0.16],[2.3,-0.12],[2.4,0.16],[2.5,-0.1],
[2.6,0.02],[2.62,-0.02],[2.64,0.05],[2.65,0.0],[2.67,-0.04],[2.69,0.02],[2.7,-0.06],[2.72,0.0],[2.74,-0.03],[2.75,0.04],[2.77,-0.07],[2.79,-0.02],[2.8,-0.09],[2.82,0.01],[2.84,-0.05],[2.86,-0.1],[2.88,-0.03],[2.9,0.07],[2.92,-0.07],[2.94,-0.12],[2.96,-0.04],[2.98,-0.14],[3.0,-0.08],[3.0,0.05],[3.02,-0.16],[3.05,-0.05],[3.08,0.02],[3.1,-0.12],[3.12,-0.02],[3.15,0.01],[3.18,-0.03],[3.2,-0.1],[2.7,0.09],[2.85,0.05],[3.05,0.1],
[3.45,0.0],[3.5,0.03],[3.53,0.05],[3.55,0.02],[3.58,-0.01],[3.6,0.04],[3.62,-0.03],[3.65,0.01],[3.7,0.06],[3.72,-0.02],[3.75,-0.05],[3.78,-0.08],[3.95,-0.1],[4.12,-0.13],[4.46,-0.05],[3.38,-0.04],
[0.015,0.04],[0.035,-0.01],[0.055,0.06],[0.075,0.02],[0.095,-0.03],[0.115,0.05],[0.135,0.0],[0.155,-0.05],[0.175,0.03],[0.195,0.07],[0.215,-0.02],[0.235,0.01],[0.255,0.05],[0.275,-0.06],[0.295,0.0],[0.315,0.04],[0.335,-0.04],[0.355,0.01],[0.375,-0.01],[0.395,0.06],[0.415,0.02],[0.435,-0.06],[0.455,0.03],[0.475,0.0],[0.495,0.05],[0.515,-0.05],[0.535,0.02],[0.555,-0.01],[0.575,0.04],[0.595,-0.04],[0.615,0.0],[0.635,0.06],[0.655,-0.02],[0.675,0.02],[0.695,-0.05],[0.715,0.03],[0.735,0.0],[0.755,-0.03],[0.775,0.05],[0.795,0.01],[0.815,-0.06],[0.835,0.03],[0.855,0.0],[0.875,0.05],[0.895,-0.04],[0.915,0.02],[0.935,-0.01],[0.955,0.06],[0.975,-0.05],[0.995,0.01],[1.015,0.04],[1.035,-0.03],[1.055,0.02],[1.075,-0.01],[1.095,0.05],[1.115,-0.05],[1.135,0.0],[1.155,0.06],[1.175,-0.03],[1.195,0.02],[1.215,-0.06],[1.235,0.04],[1.255,0.0],[1.275,0.07],[1.295,-0.02],[1.315,0.03],[1.335,-0.04],[1.355,0.01],[1.375,0.05],[1.395,-0.06],[1.415,0.02],[1.435,-0.02],[1.455,0.05],[1.475,0.0],[1.495,-0.04],[1.515,0.03],[1.535,-0.06],[1.555,0.01],[1.575,0.06],[1.595,-0.03],[1.615,0.02],[1.635,-0.01],[1.655,0.04],[1.675,-0.05],[1.695,0.0],[1.715,0.06],[1.735,-0.03],[1.755,0.02],[1.775,-0.01],[1.795,0.04],[1.815,-0.06],[1.835,0.03],[1.855,-0.02],[1.875,0.05],[1.895,0.0],[1.915,-0.04],[1.935,0.02],[1.955,-0.01],[1.975,0.06],[1.995,-0.06],[2.025,0.05],[2.055,-0.01],[2.085,0.03],[2.115,-0.04],[2.145,0.06],[2.175,0.01],[2.205,-0.03],[2.235,0.04],[2.265,0.0],[2.295,0.07],[2.325,-0.04],[2.355,0.02],[2.385,-0.02],[2.415,0.04],[2.445,-0.06],[2.475,0.02],[2.505,0.0],[2.535,-0.05],[2.565,0.01],[2.595,-0.02],[2.625,0.03],[2.655,-0.05],[2.685,-0.02],[2.715,0.02],[2.745,-0.06],[2.775,-0.01],
[0.04,0.17],[0.09,-0.15],[0.14,0.13],[0.2,-0.12],[0.26,0.16],[0.31,-0.15],[0.36,0.12],[0.41,-0.17],[0.46,0.15],[0.52,-0.14],[0.58,0.18],[0.63,-0.12],[0.68,0.15],[0.74,-0.15],[0.79,0.13],[0.84,-0.12],[0.91,0.14],[0.96,-0.17],[1.02,-0.12],[1.08,0.16],[1.12,-0.17],[1.18,0.14],[1.23,-0.15],[1.28,0.11],[1.33,-0.13],[1.38,0.16],[1.44,-0.15],[1.49,0.12],[1.54,-0.11],[1.59,0.17],[1.64,-0.13],[1.7,0.12],[1.76,-0.15],[1.82,0.11],[1.88,-0.13],[1.94,0.15],[2.01,-0.13],[2.08,0.17],[2.16,-0.11],[2.24,0.13],[2.33,0.17],[2.44,-0.11],[2.55,0.14],[2.66,0.11]];

const statsText = ["3919 sources", "<i>η</i>:", "5.3%", "<i>σ</i><sub><span style=\"font-size:9px\">NMAD</span></sub>:", "0.043"];
const resTickVals = [-0.1, 0, 0.1];
const resTickText = ["\u22120.1", "0", "0.1"];
const sigmaBand = 0.05, outlierBand = 0.15;
const xTitles = ["Le\u00a0\u00a0PHARE", "Le\u00a0\u00a0PHARE", "z<sub>spec</sub>"];
const yTitles = ["DNNz", "DNNz", "Le\u00a0\u00a0PHARE"];
const resTitle = "\u0394z<sub>|</sub>\u2009/\u2009(1+z)";

// ---------------- LAYOUT ----------------
const W = 1200, H = 388;
const fx = px => px / W, fy = py => 1 - py / H;
const panels = [
  {l:51,  r:381,  xmax:2, dt:0.5, mdt:0.1, gray:p1Gray, black:p1Black, red:null, res:p1Res},
  {l:457, r:787,  xmax:6, dt:2,   mdt:0.5, gray:p2Gray, black:p2Black, red:p2Red, res:p2Res},
  {l:863, r:1193, xmax:6, dt:2,   mdt:0.5, gray:p3Gray, black:p3Black, red:null, res:p3Res}
];
const LW = 1.6;
const mainTop = 7, mainBot = 277, resTop = 277 + LW, resBot = 343;
const AX = '#333';
const tickFont = {family:'DejaVu Serif', size:14, color:'#000'};
function ax(range, dt, mdt, labels, extra) {
  return Object.assign({
    range, dtick:dt, tick0:0, ticks:'inside', ticklen:8, tickwidth:1, tickcolor:AX,
    minor:{dtick:mdt, tick0:0, ticks:'inside', ticklen:4, tickwidth:1, tickcolor:AX, showgrid:false},
    showline:true, linecolor:AX, linewidth:LW, mirror:'ticks', showgrid:false, zeroline:false,
    showticklabels:labels, tickfont:tickFont, fixedrange:true, ticklabeloverflow:'allow'
  }, extra || {});
}
const layout = {width:W, height:H, margin:{l:0,r:0,t:0,b:0}, paper_bgcolor:'#fff', plot_bgcolor:'#fff',
  showlegend:false, annotations:[], font:{family:'Liberation Serif', color:'#000'}};
const traces = [];
function pts(arr, xa, ya, color, size) {
  return {type:'scatter', mode:'markers', x:arr.map(p=>p[0]), y:arr.map(p=>p[1]), xaxis:xa, yaxis:ya,
    marker:{color, size, line:{width:0}}, hoverinfo:'skip'};
}
function line(xs, ys, xa, ya, color, width, dash) {
  return {type:'scatter', mode:'lines', x:xs, y:ys, xaxis:xa, yaxis:ya, line:{color, width, dash:dash||'solid'}, hoverinfo:'skip'};
}
panels.forEach((p, i) => {
  const nm = 2*i + 1, nr = 2*i + 2;
  const xm = 'x' + nm, ym = 'y' + nm, xr = 'x' + nr, yr = 'y' + nr;
  const dom = [fx(p.l), fx(p.r)];
  layout['xaxis' + nm] = ax([0, p.xmax], p.dt, p.mdt, false, {domain:dom, anchor:ym});
  layout['yaxis' + nm] = ax([0, p.xmax], p.dt, p.mdt, true, {domain:[fy(mainBot), fy(mainTop)], anchor:xm, ticklabelstandoff:3});
  layout['xaxis' + nr] = ax([0, p.xmax], p.dt, p.mdt, true, {domain:dom, anchor:yr, ticklabelstandoff:0});
  layout['yaxis' + nr] = ax([-0.185, 0.185], 0.1, 0.02, true, {domain:[fy(resBot), fy(resTop)], anchor:xr, ticklabelstandoff:3,
     tickmode:'array', tickvals:resTickVals, ticktext:resTickText, minor:{dtick:0.02, tick0:0, ticks:'inside', ticklen:4, tickwidth:1, tickcolor:AX}});
  traces.push(pts(p.gray, xm, ym, '#aaaaaa', 4.5));
  traces.push(pts(p.black, xm, ym, '#000000', 4));
  if (p.red) traces.push(pts(p.red, xm, ym, '#ff0000', 6));
  traces.push(pts(p.res, xr, yr, '#000000', 3.2));
  const lx = [0, p.xmax];
  traces.push(line(lx, lx.map(v => v + outlierBand*(1+v)), xm, ym, '#ffb0b0', 1, 'dot'));
  traces.push(line(lx, lx.map(v => v - outlierBand*(1+v)), xm, ym, '#ffb0b0', 1, 'dot'));
  traces.push(line(lx, lx.map(v => v + sigmaBand*(1+v)), xm, ym, '#ffa0a0', 1));
  traces.push(line(lx, lx.map(v => v - sigmaBand*(1+v)), xm, ym, '#ffa0a0', 1));
  traces.push(line(lx, lx.map(v => v), xm, ym, '#ff6a6a', 1));
  [sigmaBand, 0, -sigmaBand].forEach(c => traces.push(line(lx, lx.map(() => c), xr, yr, '#ffc4c4', 1.5)));
  const cx = (p.l + p.r) / 2;
  layout.annotations.push({xref:'paper', yref:'paper', x:fx(cx), y:fy(376), text:xTitles[i], showarrow:false,
    xanchor:'center', yanchor:'middle', font:{family:'Liberation Serif', size:19, color:'#000'}});
  layout.annotations.push({xref:'paper', yref:'paper', x:fx(p.l - 41), y:fy(141), text:yTitles[i], showarrow:false,
    textangle:-90, xanchor:'center', yanchor:'middle', font:{family:'Liberation Serif', size:19, color:'#000'}});
  layout.annotations.push({xref:'paper', yref:'paper', x:fx(p.l - 41), y:fy(311), text:resTitle, showarrow:false,
    textangle:-90, xanchor:'center', yanchor:'middle', font:{family:'Liberation Serif', size:16, color:'#000'}});
});
const sf = {family:'Liberation Sans', size:15, color:'#000'};
const sx = fx(877), sx2 = fx(909), sx3 = fx(925);
layout.annotations.push({xref:'paper', yref:'paper', x:sx, y:fy(27), text:statsText[0], showarrow:false, xanchor:'left', yanchor:'middle', font:sf});
layout.annotations.push({xref:'paper', yref:'paper', x:sx, y:fy(43), text:statsText[1], showarrow:false, xanchor:'left', yanchor:'middle', font:sf});
layout.annotations.push({xref:'paper', yref:'paper', x:sx2, y:fy(43), text:statsText[2], showarrow:false, xanchor:'left', yanchor:'middle', font:sf});
layout.annotations.push({xref:'paper', yref:'paper', x:sx, y:fy(61), text:statsText[3], showarrow:false, xanchor:'left', yanchor:'middle', font:sf});
layout.annotations.push({xref:'paper', yref:'paper', x:sx3, y:fy(60), text:statsText[4], showarrow:false, xanchor:'left', yanchor:'middle', font:sf});

Plotly.newPlot('chart', traces, layout, {displayModeBar:false, staticPlot:true});
</script></body></html>
